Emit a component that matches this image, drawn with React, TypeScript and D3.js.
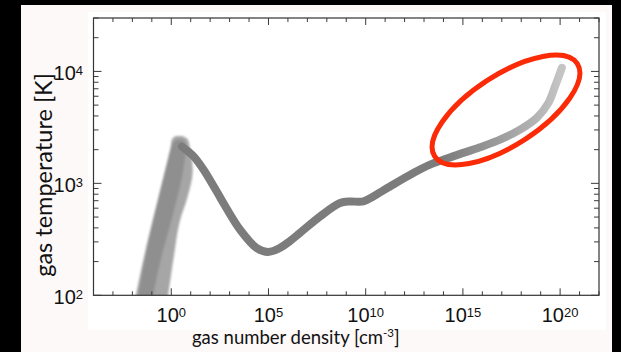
import React from "react";
import * as d3 from "d3";

// ---- data ----
// main narrow track: log10 of gas number density [cm^-3] and gas temperature [K]
const logDensity = [0.55, 1.12, 1.63, 2.34, 2.68, 3.54, 4.40, 4.98, 5.59, 6.11, 6.62, 7.65, 8.68, 9.20, 9.88, 10.39, 11.25, 12.45, 13.31, 14.49, 15.88, 16.91, 17.94, 18.80, 19.40, 19.74, 20.09];
const temperature = [2128, 1766, 1352, 845, 667, 385, 264, 244, 265, 306, 361, 506, 667, 689, 689, 764, 938, 1236, 1469, 1742, 2104, 2455, 3020, 3846, 5236, 7362, 10765];

// broad low-density rising band (outer envelope)
const bandTemp = [85, 100, 239, 444, 759, 1245, 2000, 2500, 2650];
const bandLogNLow = [-1.90, -1.82, -1.36, -0.99, -0.65, -0.35, -0.05, 0.05, 0.25];
const bandLogNHigh = [-0.22, -0.16, 0.16, 0.42, 0.84, 1.10, 0.98, 0.82, 0.55];

// darker core of the rising band
const coreTemp = [85, 100, 195, 545, 1322, 2300, 2450];
const coreLogNLow = [-1.80, -1.71, -1.40, -0.84, -0.30, 0.09, 0.30];
const coreLogNHigh = [-0.98, -0.92, -0.58, 0.11, 0.62, 0.72, 0.55];

const xTickExponents = [0, 5, 10, 15, 20];
const yTickExponents = [2, 3, 4];

const xTitle = "gas number density [cm";
const xTitleSup = "-3";
const yTitle = "gas temperature [K]";

const W = 621;
const H = 352;

export default function App() {
  const left = 93.5, right = 599, top = 18, bottom = 295.3;
  const x = d3.scaleLog().domain([1e-4, 1e22]).range([left, right]);
  const y = d3.scaleLog().domain([100, 3e4]).range([bottom, top]);

  const pts = logDensity.map((l, i) => [Math.pow(10, l), temperature[i]] as [number, number]);
  const line = d3
    .line<[number, number]>()
    .x((d) => x(d[0]))
    .y((d) => y(d[1]))
    .curve(d3.curveCatmullRom.alpha(0.5));

  const bandPts = bandTemp.map((t, i) => ({ t, lo: Math.pow(10, bandLogNLow[i]), hi: Math.pow(10, bandLogNHigh[i]) }));
  const corePts = coreTemp.map((t, i) => ({ t, lo: Math.pow(10, coreLogNLow[i]), hi: Math.pow(10, coreLogNHigh[i]) }));
  const area = d3
    .area<{ t: number; lo: number; hi: number }>()
    .y((d) => y(d.t))
    .x0((d) => x(d.lo))
    .x1((d) => x(d.hi))
    .curve(d3.curveCatmullRom.alpha(0.5));

  // ticks
  const xTicks: { v: number; major: boolean }[] = [];
  for (let k = -4; k <= 22; k++) xTicks.push({ v: Math.pow(10, k), major: k % 5 === 0 });
  const yTicks: { v: number; major: boolean }[] = [];
  for (let k = 2; k <= 4; k++) {
    for (let m = 1; m <= 9; m++) {
      const v = m * Math.pow(10, k);
      if (v <= 3e4) yTicks.push({ v, major: m === 1 });
    }
  }
  const majLen = 7, minLen = 4;
  const tickColor = "#3a3a3a";

  const gx1 = x(1e14), gx2 = x(1e20);

  return (
    <svg width={W} height={H} style={{ position: "absolute", left: 0, top: 0, display: "block" }}>
      <defs>
        <clipPath id="plotClip">
          <rect x={left} y={top} width={right - left} height={bottom - top} />
        </clipPath>
        <linearGradient id="fade" gradientUnits="userSpaceOnUse" x1={gx1} y1={0} x2={gx2} y2={0}>
          <stop offset="0" stopColor="#7c7c7c" />
          <stop offset="0.5" stopColor="#9e9e9e" />
          <stop offset="1" stopColor="#c4c4c4" />
        </linearGradient>
        <filter id="soft" x="-5%" y="-5%" width="110%" height="110%">
          <feGaussianBlur stdDeviation="0.7" />
        </filter>
        <filter id="softer" x="-10%" y="-10%" width="120%" height="120%">
          <feGaussianBlur stdDeviation="0.9" />
        </filter>
      </defs>
      <rect x={0} y={0} width={W} height={H} fill="#000" />
      <rect x={21} y={5} width={591} height={H - 5} fill="#fdf9f9" />
      <rect x={88} y={12} width={518} height={318} fill="#ffffff" />

      <g clipPath="url(#plotClip)">
        <g filter="url(#softer)">
          <path d={area(bandPts) || ""} fill="#a6a6a6" />
          <path d={area(corePts) || ""} fill="#8a8a8a" opacity={0.8} />
        </g>
        <g filter="url(#soft)">
          <path
            d={line(pts) || ""}
            fill="none"
            stroke="url(#fade)"
            strokeWidth={8}
            strokeLinecap="round"
            strokeLinejoin="round"
          />
        </g>
      </g>

      {/* frame */}
      <rect x={left} y={top} width={right - left} height={bottom - top} fill="none" stroke="#333" strokeWidth={1.2} />

      {/* x ticks bottom & top */}
      {xTicks.map((t, i) => {
        const px = x(t.v);
        const len = t.major ? majLen : minLen;
        return (
          <g key={"xt" + i} stroke={tickColor} strokeWidth={1}>
            <line x1={px} x2={px} y1={bottom} y2={bottom - len} />
            <line x1={px} x2={px} y1={top} y2={top + len} />
          </g>
        );
      })}
      {/* y ticks left & right */}
      {yTicks.map((t, i) => {
        const py = y(t.v);
        const len = t.major ? majLen + 1 : minLen + 1;
        return (
          <g key={"yt" + i} stroke={tickColor} strokeWidth={1}>
            <line x1={left} x2={left + len} y1={py} y2={py} />
            <line x1={right} x2={right - len} y1={py} y2={py} />
          </g>
        );
      })}

      {/* x tick labels */}
      {xTickExponents.map((e) => (
        <text
          key={"xl" + e}
          x={x(Math.pow(10, e))}
          y={322}
          textAnchor="middle"
          fontFamily="'Liberation Sans', Arial, sans-serif"
          fontSize={20}
          fill="#111"
        >
          10
          <tspan dy={-5.5} fontSize={13}>
            {String(e)}
          </tspan>
        </text>
      ))}
      {/* y tick labels */}
      {yTickExponents.map((e) => (
        <text
          key={"yl" + e}
          x={83}
          y={y(Math.pow(10, e)) + 9}
          textAnchor="end"
          fontFamily="'Liberation Sans', Arial, sans-serif"
          fontSize={20}
          fill="#111"
        >
          10
          <tspan dy={-5.5} fontSize={13}>
            {String(e)}
          </tspan>
        </text>
      ))}

      {/* axis titles */}
      <text x={192} y={344} fontFamily="Lato, 'Open Sans', sans-serif" fontSize={18.5} fill="#111">
        {xTitle}
        <tspan dy={-7} fontSize={11.5}>
          {xTitleSup}
        </tspan>
        <tspan dy={7}>]</tspan>
      </text>
      <text
        transform={`translate(52, 175) rotate(-90)`}
        textAnchor="middle"
        fontFamily="Lato, 'Open Sans', sans-serif"
        fontSize={23.5}
        fill="#111"
      >
        {yTitle}
      </text>

      {/* red annotation ellipse */}
      <ellipse
        cx={506}
        cy={110}
        rx={85}
        ry={35}
        transform="rotate(-33 506 110)"
        fill="none"
        stroke="#fb2a07"
        strokeWidth={5}
      />
    </svg>
  );
}
